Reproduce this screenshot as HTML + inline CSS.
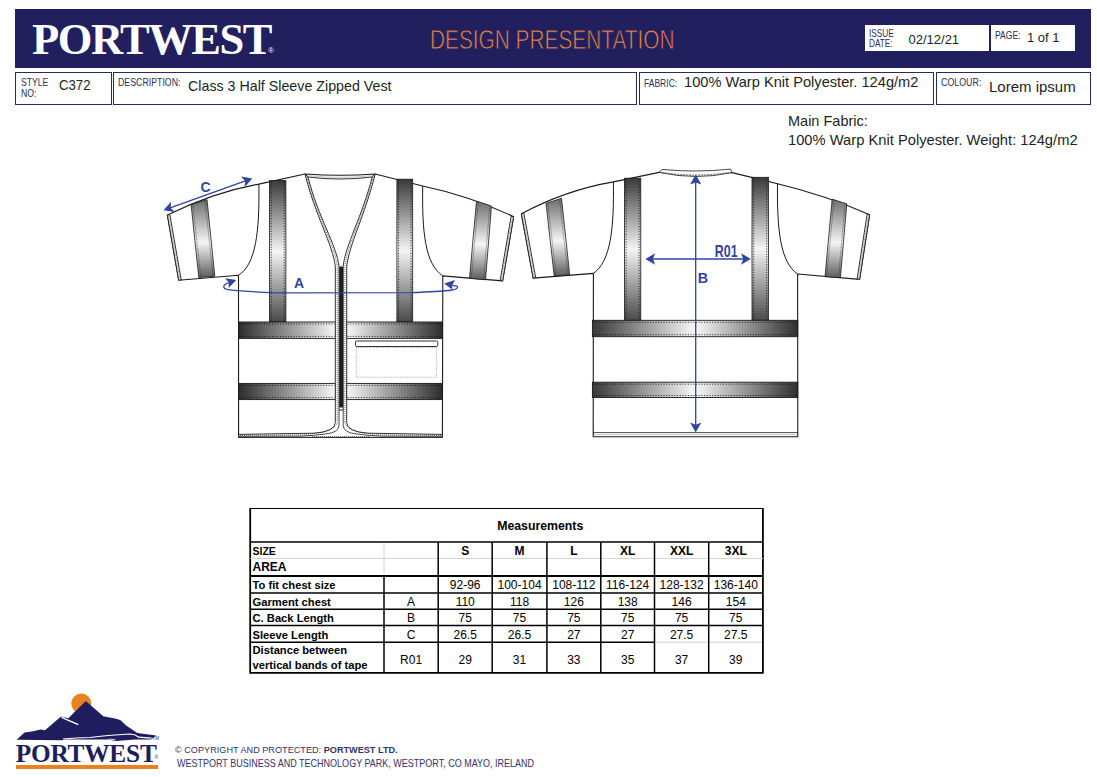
<!DOCTYPE html>
<html><head><meta charset="utf-8">
<style>
html,body{margin:0;padding:0;background:#fff;width:1097px;height:777px;overflow:hidden;position:relative;font-family:"Liberation Sans",sans-serif;color:#231f20}
.a{position:absolute;white-space:nowrap;line-height:1}
.banner{position:absolute;left:15px;top:9px;width:1076px;height:58.5px;background:#211f5e}
.box{position:absolute;border:1.3px solid #2a2860;box-sizing:border-box;background:#fff}
.lbl{color:#2d2b58;font-size:10px}
.serif{font-family:"Liberation Serif",serif;font-weight:bold}
</style></head><body>
<div class="banner"></div>
<div class="a serif" id="logo1" style="left:32px;top:17px;font-size:44.5px;letter-spacing:-1.45px;color:#fff">PORTWEST</div><div class="a" style="left:268.3px;top:47.3px;font-size:7.5px;color:#fff">&reg;</div>
<div class="a" id="dp" style="left:430.4px;top:26px;font-size:28px;color:#f08743;-webkit-text-stroke:0.8px #211f5e;paint-order:normal;transform:scaleX(0.7435);transform-origin:0 0;">DESIGN PRESENTATION</div>

<div class="box" style="left:864.6px;top:24.9px;width:124.4px;height:26.3px;border:none"></div>
<div class="box" style="left:991.2px;top:24.9px;width:84px;height:26.3px;border:none"></div>
<div class="a lbl" id="issue" style="left:868.6px;top:28px;font-size:10.8px;line-height:10.2px;transform:scaleX(0.76);transform-origin:0 0;">ISSUE<br>DATE:</div>
<div class="a" id="date" style="left:908.5px;top:32.5px;font-size:13px">02/12/21</div>
<div class="a lbl" id="page" style="left:995px;top:29.8px;font-size:10.8px;transform:scaleX(0.79);transform-origin:0 0;">PAGE:</div>
<div class="a" id="pg" style="left:1027px;top:31px;font-size:13px">1 of 1</div>

<div class="box" style="left:15px;top:72px;width:96.8px;height:32.5px"></div>
<div class="box" style="left:113.2px;top:72px;width:523.4px;height:32.5px"></div>
<div class="box" style="left:639.4px;top:72px;width:294.4px;height:32.5px"></div>
<div class="box" style="left:936.2px;top:72px;width:154.8px;height:32.5px"></div>

<div class="a lbl" id="style" style="left:20.8px;top:76.9px;font-size:10.8px;line-height:10.9px;transform:scaleX(0.80);transform-origin:0 0;">STYLE<br>NO:</div>
<div class="a" id="c372" style="left:59.2px;top:79px;font-size:13.8px;transform:scaleX(0.955);transform-origin:0 0">C372</div>
<div class="a lbl" id="desc" style="left:117.5px;top:77.2px;font-size:10.8px;transform:scaleX(0.813);transform-origin:0 0;">DESCRIPTION:</div>
<div class="a" id="descv" style="left:187.5px;top:77.5px;font-size:15px;transform:scaleX(0.95);transform-origin:0 0">Class 3 Half Sleeve Zipped Vest</div>
<div class="a lbl" id="fab" style="left:643.5px;top:77.8px;font-size:10.8px;transform:scaleX(0.79);transform-origin:0 0;">FABRIC:</div>
<div class="a" id="fabv" style="left:683.5px;top:74px;font-size:15px;transform:scaleX(0.975);transform-origin:0 0">100% Warp Knit Polyester. 124g/m2</div>
<div class="a lbl" id="col" style="left:940.5px;top:77.4px;font-size:10.8px;transform:scaleX(0.82);transform-origin:0 0;">COLOUR:</div>
<div class="a" id="colv" style="left:989px;top:79px;font-size:15px">Lorem ipsum</div>

<div class="a" id="mf1" style="left:788px;top:114px;font-size:14.5px">Main Fabric:</div>
<div class="a" id="mf2" style="left:787.5px;top:132.7px;font-size:14.5px;transform:scaleX(1.015);transform-origin:0 0">100% Warp Knit Polyester. Weight: 124g/m2</div>

<!--VEST-->
<svg class="a" style="left:0;top:0" width="1097" height="777">
<defs>
<linearGradient id="gv" x1="0" y1="0" x2="0" y2="1"><stop offset="0" stop-color="#3a3a3a"/><stop offset="0.5" stop-color="#f4f4f4"/><stop offset="1" stop-color="#4a4a4a"/></linearGradient>
<linearGradient id="gs" x1="0" y1="0" x2="0" y2="1"><stop offset="0" stop-color="#6e6e6e"/><stop offset="0.55" stop-color="#f4f4f4"/><stop offset="1" stop-color="#5e5e5e"/></linearGradient>
<linearGradient id="gl" x1="0" y1="0" x2="1" y2="0"><stop offset="0" stop-color="#2e2e2e"/><stop offset="1" stop-color="#f6f6f6"/></linearGradient>
<linearGradient id="gr" x1="0" y1="0" x2="1" y2="0"><stop offset="0" stop-color="#f6f6f6"/><stop offset="1" stop-color="#2e2e2e"/></linearGradient>
<linearGradient id="gb" x1="0" y1="0" x2="1" y2="0"><stop offset="0" stop-color="#383838"/><stop offset="0.5" stop-color="#f8f8f8"/><stop offset="1" stop-color="#303030"/></linearGradient>
</defs>
<path d="M167.4,215.1 Q214,192 258.9,184.1 L305,174 Q340,176.5 375.2,174 L422.7,186 Q470,196 513.6,216.7 L502.6,280.9 L442.8,275.9 L442.4,437.3 L238.6,437.3 L238.5,275.3 L178.7,280.2 Z" fill="#fff" stroke="#1a1a1a" stroke-width="1.1" stroke-linejoin="round"/>
<path d="M258.9,184.1 C259.5,232 256,264 238.5,275.3" fill="none" stroke="#1a1a1a" stroke-width="1"/>
<path d="M422.7,186 C422,232 425,264 442.8,275.9" fill="none" stroke="#1a1a1a" stroke-width="1"/>
<polygon points="167.4,215.1 178.7,280.2 181.2,279.9 169.9,214.79999999999998" fill="#fff" stroke="#1a1a1a" stroke-width="0.9"/>
<line x1="168.65" y1="215.95" x2="179.95" y2="279.05" stroke="#333" stroke-width="0.6" stroke-dasharray="0.8 0.8"/>
<polygon points="513.6,216.7 502.6,280.9 500.1,280.59999999999997 511.1,216.39999999999998" fill="#fff" stroke="#1a1a1a" stroke-width="0.9"/>
<line x1="512.35" y1="217.54999999999998" x2="501.35" y2="279.75" stroke="#333" stroke-width="0.6" stroke-dasharray="0.8 0.8"/>
<polygon points="191.1,204.7 207,199.6 214.8,276.2 198.8,277.5" fill="url(#gs)" stroke="#1a1a1a" stroke-width="0.8"/>
<line x1="193.0" y1="205.1" x2="200.7" y2="276.3" stroke="#222" stroke-width="0.6" stroke-dasharray="0.9 0.9"/>
<line x1="205.1" y1="201.2" x2="212.9" y2="275.4" stroke="#222" stroke-width="0.6" stroke-dasharray="0.9 0.9"/>
<polygon points="476.5,201.1 491.5,206.1 485.5,279.7 469.5,278.3" fill="url(#gs)" stroke="#1a1a1a" stroke-width="0.8"/>
<line x1="478.3" y1="202.7" x2="471.4" y2="277.5" stroke="#222" stroke-width="0.6" stroke-dasharray="0.9 0.9"/>
<line x1="489.7" y1="206.5" x2="483.6" y2="278.5" stroke="#222" stroke-width="0.6" stroke-dasharray="0.9 0.9"/>
<rect x="269.5" y="180.6" width="16.399999999999977" height="141.4" fill="url(#gv)" stroke="#1a1a1a" stroke-width="0.8"/>
<line x1="271.2" y1="181.6" x2="271.2" y2="321" stroke="#111" stroke-width="0.9" stroke-dasharray="1 1.6"/>
<line x1="284.2" y1="181.6" x2="284.2" y2="321" stroke="#111" stroke-width="0.9" stroke-dasharray="1 1.6"/>
<rect x="396.9" y="179.2" width="15.800000000000011" height="142.8" fill="url(#gv)" stroke="#1a1a1a" stroke-width="0.8"/>
<line x1="398.59999999999997" y1="180.2" x2="398.59999999999997" y2="321" stroke="#111" stroke-width="0.9" stroke-dasharray="1 1.6"/>
<line x1="411.0" y1="180.2" x2="411.0" y2="321" stroke="#111" stroke-width="0.9" stroke-dasharray="1 1.6"/>
<rect x="238.6" y="322" width="96.9" height="16.399999999999977" fill="url(#gl)" stroke="#1a1a1a" stroke-width="0.9"/>
<line x1="239.6" y1="324.0" x2="334.5" y2="324.0" stroke="#111" stroke-width="0.9" stroke-dasharray="1 1.7"/>
<line x1="239.6" y1="336.4" x2="334.5" y2="336.4" stroke="#111" stroke-width="0.9" stroke-dasharray="1 1.7"/>
<rect x="346.5" y="322" width="95.89999999999998" height="16.399999999999977" fill="url(#gr)" stroke="#1a1a1a" stroke-width="0.9"/>
<line x1="347.5" y1="324.0" x2="441.4" y2="324.0" stroke="#111" stroke-width="0.9" stroke-dasharray="1 1.7"/>
<line x1="347.5" y1="336.4" x2="441.4" y2="336.4" stroke="#111" stroke-width="0.9" stroke-dasharray="1 1.7"/>
<rect x="238.6" y="383.4" width="96.9" height="16.200000000000045" fill="url(#gl)" stroke="#1a1a1a" stroke-width="0.9"/>
<line x1="239.6" y1="385.4" x2="334.5" y2="385.4" stroke="#111" stroke-width="0.9" stroke-dasharray="1 1.7"/>
<line x1="239.6" y1="397.6" x2="334.5" y2="397.6" stroke="#111" stroke-width="0.9" stroke-dasharray="1 1.7"/>
<rect x="346.5" y="383.4" width="95.89999999999998" height="16.200000000000045" fill="url(#gr)" stroke="#1a1a1a" stroke-width="0.9"/>
<line x1="347.5" y1="385.4" x2="441.4" y2="385.4" stroke="#111" stroke-width="0.9" stroke-dasharray="1 1.7"/>
<line x1="347.5" y1="397.6" x2="441.4" y2="397.6" stroke="#111" stroke-width="0.9" stroke-dasharray="1 1.7"/>
<path d="M308,177 Q340,181 372.2,177" fill="none" stroke="#1a1a1a" stroke-width="0.9"/>
<path d="M306,175.5 Q340,179 374,175.5" fill="none" stroke="#444" stroke-width="0.6" stroke-dasharray="0.8 0.8"/>
<path d="M305,174 C315,215 333,245 335.3,266.5 L335.3,422.5 Q335,431.8 314,433.2 L238.6,434.4 L238.6,437.3 L442.4,437.3 L442.4,434.4 L368,433.2 Q347,431.8 346.7,422.5 L346.7,266.5 C349,245 365,215 375.2,174 L372.2,177 C362,217 345,246 343.2,266.5 L343.2,410 L339,410 L339,266.5 C337,246 318,217 308,177 Z" fill="#fff" stroke="#1a1a1a" stroke-width="0.9" stroke-linejoin="round"/>
<path d="M306.5,175.5 C316.5,216 335,245.5 337.2,266.5 L337.2,422" fill="none" stroke="#111" stroke-width="0.8" stroke-dasharray="0.8 1.2"/>
<path d="M373.6,175.5 C363.5,216 347,245.5 344.9,266.5 L344.9,422" fill="none" stroke="#111" stroke-width="0.8" stroke-dasharray="0.8 1.2"/>
<rect x="339.2" y="266.5" width="3.8" height="141" fill="#1e1e1e"/>
<path d="M339,410 L339,425.5 Q338.6,432.6 326,433.9 Q314,435.6 300,436.1 L238.6,436.3" fill="none" stroke="#1a1a1a" stroke-width="0.8"/>
<path d="M343.2,410 L343.2,425.5 Q343.6,432.6 356,433.9 Q368,435.6 382,436.1 L442.4,436.3" fill="none" stroke="#1a1a1a" stroke-width="0.8"/>
<path d="M240,435.4 L300,434.9 Q335.6,433 337.2,422" fill="none" stroke="#111" stroke-width="0.8" stroke-dasharray="0.8 1.2"/>
<path d="M441,435.4 L382,434.9 Q346,433 344.9,422" fill="none" stroke="#111" stroke-width="0.8" stroke-dasharray="0.8 1.2"/>
<path d="M312,436.6 L370,436.6" fill="none" stroke="#111" stroke-width="0.7" stroke-dasharray="0.8 1.2"/>
<rect x="355.5" y="341" width="82.3" height="5.5" rx="1.2" fill="#fff" stroke="#1a1a1a" stroke-width="0.9"/>
<rect x="356.3" y="347.5" width="80.4" height="29.7" fill="none" stroke="#777" stroke-width="0.6" stroke-dasharray="0.9 0.9"/>
<path d="M521.4,213.8 Q566,190 613.4,181.9 L659.2,172.4 Q695,171 732,172.6 L777.5,183.7 Q825,195 869.6,214.7 L859.6,279.4 L797.6,274 L797.8,436.7 L593.2,436.7 L593.4,273.4 L533.2,278.1 Z" fill="#fff" stroke="#1a1a1a" stroke-width="1.1" stroke-linejoin="round"/>
<path d="M613.4,181.9 C614,228 611,261 593.4,273.4" fill="none" stroke="#1a1a1a" stroke-width="1"/>
<path d="M777.5,183.7 C777,229 780,262 797.6,274" fill="none" stroke="#1a1a1a" stroke-width="1"/>
<polygon points="521.4,213.8 533.2,278.1 535.7,277.70000000000005 523.9,213.4" fill="#fff" stroke="#1a1a1a" stroke-width="0.9"/>
<line x1="522.65" y1="214.60000000000002" x2="534.45" y2="276.90000000000003" stroke="#333" stroke-width="0.6" stroke-dasharray="0.8 0.8"/>
<polygon points="869.6,214.7 859.6,279.4 857.1,279.0 867.1,214.29999999999998" fill="#fff" stroke="#1a1a1a" stroke-width="0.9"/>
<line x1="868.35" y1="215.5" x2="858.35" y2="278.2" stroke="#333" stroke-width="0.6" stroke-dasharray="0.8 0.8"/>
<polygon points="546,203.4 561.5,198.3 569.7,274.9 554.2,275.8" fill="url(#gs)" stroke="#1a1a1a" stroke-width="0.8"/>
<line x1="547.9" y1="203.8" x2="556.1" y2="274.7" stroke="#222" stroke-width="0.6" stroke-dasharray="0.9 0.9"/>
<line x1="559.6" y1="199.9" x2="567.8" y2="274.0" stroke="#222" stroke-width="0.6" stroke-dasharray="0.9 0.9"/>
<polygon points="832.2,199.2 846.8,203.8 840.4,277.6 825,276.7" fill="url(#gs)" stroke="#1a1a1a" stroke-width="0.8"/>
<line x1="834.0" y1="200.8" x2="826.8" y2="275.8" stroke="#222" stroke-width="0.6" stroke-dasharray="0.9 0.9"/>
<line x1="845.0" y1="204.2" x2="838.6" y2="276.5" stroke="#222" stroke-width="0.6" stroke-dasharray="0.9 0.9"/>
<rect x="624.4" y="178.2" width="16.399999999999977" height="142.10000000000002" fill="url(#gv)" stroke="#1a1a1a" stroke-width="0.8"/>
<line x1="626.1" y1="179.2" x2="626.1" y2="319.3" stroke="#111" stroke-width="0.9" stroke-dasharray="1 1.6"/>
<line x1="639.0999999999999" y1="179.2" x2="639.0999999999999" y2="319.3" stroke="#111" stroke-width="0.9" stroke-dasharray="1 1.6"/>
<rect x="752" y="177.3" width="16.399999999999977" height="143.0" fill="url(#gv)" stroke="#1a1a1a" stroke-width="0.8"/>
<line x1="753.7" y1="178.3" x2="753.7" y2="319.3" stroke="#111" stroke-width="0.9" stroke-dasharray="1 1.6"/>
<line x1="766.6999999999999" y1="178.3" x2="766.6999999999999" y2="319.3" stroke="#111" stroke-width="0.9" stroke-dasharray="1 1.6"/>
<rect x="592.4" y="320.3" width="205.39999999999998" height="16.399999999999977" fill="url(#gb)" stroke="#1a1a1a" stroke-width="0.9"/>
<line x1="593.4" y1="322.3" x2="796.8" y2="322.3" stroke="#111" stroke-width="0.9" stroke-dasharray="1 1.7"/>
<line x1="593.4" y1="334.7" x2="796.8" y2="334.7" stroke="#111" stroke-width="0.9" stroke-dasharray="1 1.7"/>
<rect x="592.4" y="382.2" width="205.39999999999998" height="15.300000000000011" fill="url(#gb)" stroke="#1a1a1a" stroke-width="0.9"/>
<line x1="593.4" y1="384.2" x2="796.8" y2="384.2" stroke="#111" stroke-width="0.9" stroke-dasharray="1 1.7"/>
<line x1="593.4" y1="395.5" x2="796.8" y2="395.5" stroke="#111" stroke-width="0.9" stroke-dasharray="1 1.7"/>
<path d="M659.2,172.4 L662,169.4 Q696,172.8 730.6,169.1 L732,172.6 Q696,180.5 659.2,172.4 Z" fill="#fff" stroke="#1a1a1a" stroke-width="0.8" stroke-linejoin="round"/>
<path d="M662,172.6 Q696,177.6 729.5,172.4" fill="none" stroke="#333" stroke-width="1.3" stroke-dasharray="0.6 0.9"/>
<line x1="593.2" y1="432.6" x2="797.8" y2="432.6" stroke="#1a1a1a" stroke-width="0.8"/>
<line x1="594" y1="434.6" x2="797" y2="434.6" stroke="#444" stroke-width="0.6" stroke-dasharray="0.8 0.8"/>
</svg>
<!--/VEST-->
<!--TABLE-->
<svg class="a" style="left:0;top:0" width="1097" height="777" font-family="Liberation Sans, sans-serif" fill="#000">
<line x1="250.2" y1="508.5" x2="762.9" y2="508.5" stroke="#000" stroke-width="1.2"/>
<line x1="250.2" y1="507.9" x2="250.2" y2="673.5999999999999" stroke="#000" stroke-width="1.8"/>
<line x1="762.9" y1="507.9" x2="762.9" y2="673.5999999999999" stroke="#000" stroke-width="1.8"/>
<line x1="250.2" y1="672.8" x2="762.9" y2="672.8" stroke="#000" stroke-width="1.8"/>
<line x1="250.2" y1="558.5" x2="762.9" y2="558.5" stroke="#d4d4d4" stroke-width="1"/>
<line x1="384.0" y1="542" x2="384.0" y2="576" stroke="#d4d4d4" stroke-width="1"/>
<line x1="250.2" y1="542" x2="762.9" y2="542" stroke="#000" stroke-width="1.5"/>
<line x1="250.2" y1="576" x2="762.9" y2="576" stroke="#000" stroke-width="1.8"/>
<line x1="250.2" y1="593" x2="762.9" y2="593" stroke="#000" stroke-width="1.5"/>
<line x1="250.2" y1="609.3" x2="762.9" y2="609.3" stroke="#000" stroke-width="1.5"/>
<line x1="250.2" y1="625.6" x2="762.9" y2="625.6" stroke="#000" stroke-width="1.5"/>
<line x1="250.2" y1="642.2" x2="655" y2="642.2" stroke="#000" stroke-width="1.5"/><line x1="655" y1="642.2" x2="762" y2="642.2" stroke="#d0d0d0" stroke-width="1"/>
<line x1="384.0" y1="576" x2="384.0" y2="672.8" stroke="#000" stroke-width="1.5"/>
<line x1="438.2" y1="542" x2="438.2" y2="672.8" stroke="#000" stroke-width="1.5"/>
<line x1="492.2" y1="542" x2="492.2" y2="672.8" stroke="#000" stroke-width="1.5"/>
<line x1="546.9" y1="542" x2="546.9" y2="672.8" stroke="#000" stroke-width="1.5"/>
<line x1="600.8" y1="542" x2="600.8" y2="672.8" stroke="#000" stroke-width="1.5"/>
<line x1="654.5" y1="542" x2="654.5" y2="672.8" stroke="#000" stroke-width="1.5"/>
<line x1="708.7" y1="542" x2="708.7" y2="672.8" stroke="#000" stroke-width="1.5"/>
<text x="497.2" y="530.4" font-size="12.3" font-weight="bold" text-anchor="start" >Measurements</text>
<text x="252.5" y="555.2" font-size="10.5" font-weight="bold" text-anchor="start" >SIZE</text>
<text x="252.5" y="571" font-size="12" font-weight="bold" text-anchor="start" >AREA</text>
<text x="252.5" y="589.3" font-size="11.2" font-weight="bold" text-anchor="start" >To fit chest size</text>
<text x="252.5" y="606" font-size="11.2" font-weight="bold" text-anchor="start" >Garment chest</text>
<text x="252.5" y="622.1" font-size="11.2" font-weight="bold" text-anchor="start" >C. Back Length</text>
<text x="252.5" y="638.5" font-size="11.2" font-weight="bold" text-anchor="start" >Sleeve Length</text>
<text x="252.5" y="654.4" font-size="11.2" font-weight="bold" text-anchor="start" >Distance between</text>
<text x="252.5" y="669" font-size="11.2" font-weight="bold" text-anchor="start" >vertical bands of tape</text>
<text x="465.2" y="555.3" font-size="12" font-weight="bold" text-anchor="middle" >S</text>
<text x="519.55" y="555.3" font-size="12" font-weight="bold" text-anchor="middle" >M</text>
<text x="573.8499999999999" y="555.3" font-size="12" font-weight="bold" text-anchor="middle" >L</text>
<text x="627.65" y="555.3" font-size="12" font-weight="bold" text-anchor="middle" >XL</text>
<text x="681.6" y="555.3" font-size="12" font-weight="bold" text-anchor="middle" >XXL</text>
<text x="735.8" y="555.3" font-size="12" font-weight="bold" text-anchor="middle" >3XL</text>
<text x="465.2" y="589.3" font-size="12"  text-anchor="middle" >92-96</text>
<text x="519.55" y="589.3" font-size="12"  text-anchor="middle" >100-104</text>
<text x="573.8499999999999" y="589.3" font-size="12"  text-anchor="middle" >108-112</text>
<text x="627.65" y="589.3" font-size="12"  text-anchor="middle" >116-124</text>
<text x="681.6" y="589.3" font-size="12"  text-anchor="middle" >128-132</text>
<text x="735.8" y="589.3" font-size="12"  text-anchor="middle" >136-140</text>
<text x="411.1" y="606" font-size="12"  text-anchor="middle" >A</text>
<text x="465.2" y="606" font-size="12"  text-anchor="middle" >110</text>
<text x="519.55" y="606" font-size="12"  text-anchor="middle" >118</text>
<text x="573.8499999999999" y="606" font-size="12"  text-anchor="middle" >126</text>
<text x="627.65" y="606" font-size="12"  text-anchor="middle" >138</text>
<text x="681.6" y="606" font-size="12"  text-anchor="middle" >146</text>
<text x="735.8" y="606" font-size="12"  text-anchor="middle" >154</text>
<text x="411.1" y="622.1" font-size="12"  text-anchor="middle" >B</text>
<text x="465.2" y="622.1" font-size="12"  text-anchor="middle" >75</text>
<text x="519.55" y="622.1" font-size="12"  text-anchor="middle" >75</text>
<text x="573.8499999999999" y="622.1" font-size="12"  text-anchor="middle" >75</text>
<text x="627.65" y="622.1" font-size="12"  text-anchor="middle" >75</text>
<text x="681.6" y="622.1" font-size="12"  text-anchor="middle" >75</text>
<text x="735.8" y="622.1" font-size="12"  text-anchor="middle" >75</text>
<text x="411.1" y="638.5" font-size="12"  text-anchor="middle" >C</text>
<text x="465.2" y="638.5" font-size="12"  text-anchor="middle" >26.5</text>
<text x="519.55" y="638.5" font-size="12"  text-anchor="middle" >26.5</text>
<text x="573.8499999999999" y="638.5" font-size="12"  text-anchor="middle" >27</text>
<text x="627.65" y="638.5" font-size="12"  text-anchor="middle" >27</text>
<text x="681.6" y="638.5" font-size="12"  text-anchor="middle" >27.5</text>
<text x="735.8" y="638.5" font-size="12"  text-anchor="middle" >27.5</text>
<text x="411.1" y="663.5" font-size="12"  text-anchor="middle" >R01</text>
<text x="465.2" y="663.5" font-size="12"  text-anchor="middle" >29</text>
<text x="519.55" y="663.5" font-size="12"  text-anchor="middle" >31</text>
<text x="573.8499999999999" y="663.5" font-size="12"  text-anchor="middle" >33</text>
<text x="627.65" y="663.5" font-size="12"  text-anchor="middle" >35</text>
<text x="681.6" y="663.5" font-size="12"  text-anchor="middle" >37</text>
<text x="735.8" y="663.5" font-size="12"  text-anchor="middle" >39</text>
</svg>
<!--/TABLE-->
<!--EXTRA-->
<svg class="a" style="left:0;top:0" width="1097" height="777">
<line x1="166" y1="209.4" x2="249.5" y2="179.4" stroke="#3144a0" stroke-width="1.3"/>
<polygon points="163.5,210.3 174.8,212.1 170.6,207.8 171.1,201.7" fill="#3144a0"/>
<polygon points="252.3,178.4 241.0,176.6 245.2,180.9 244.7,187.0" fill="#3144a0"/>
<text x="205.6" y="192" font-family="Liberation Sans, sans-serif" font-weight="bold" font-size="14" fill="#3144a0" text-anchor="middle">C</text>
<path d="M229,282.8 C222.5,284.5 222,288.3 228,289.6 Q246,291.8 275,292.8 L410,292.7 Q440,291.6 452,290 C459.5,288.6 459,285.3 452.5,285.6" fill="none" stroke="#3144a0" stroke-width="1.3"/>
<polygon points="236.3,280.1 225.1,278.2 228.8,282.6 228.7,288" fill="#3144a0"/>
<polygon points="444.2,283.4 455.1,280.1 452.3,285.3 452.1,289.4" fill="#3144a0"/>
<text x="299" y="288" font-family="Liberation Sans, sans-serif" font-weight="bold" font-size="14" fill="#3144a0" text-anchor="middle">A</text>
<line x1="695.7" y1="177" x2="695.7" y2="430" stroke="#3144a0" stroke-width="1.3"/>
<polygon points="695.7,174.6 690.1,184.6 695.7,182.4 701.3,184.6" fill="#3144a0"/>
<polygon points="695.7,432.6 701.3,422.6 695.7,424.8 690.1,422.6" fill="#3144a0"/>
<text x="703" y="282.8" font-family="Liberation Sans, sans-serif" font-weight="bold" font-size="14.3" fill="#3144a0" text-anchor="middle">B</text>
<line x1="648" y1="259" x2="748" y2="259" stroke="#3144a0" stroke-width="1.3"/>
<polygon points="645.4,259.0 655.2,264.8 652.9,259.0 655.2,253.2" fill="#3144a0"/>
<polygon points="750.8,259.0 741.0,253.2 743.3,259.0 741.0,264.8" fill="#3144a0"/>
<text x="714.8" y="256.9" font-family="Liberation Sans, sans-serif" font-weight="bold" font-size="16.2" fill="#3144a0" transform="translate(715 0) scale(0.765 1) translate(-715 0)">R01</text>
</svg>
<svg class="a" style="left:0;top:0" width="1097" height="777">
<circle cx="81.3" cy="703.6" r="10" fill="#e8821e"/>
<polygon points="16.6,739.8 24.6,732.5 31.9,731.6 40.6,729.4 45,730.2 61,716.4 68.3,718.2 85.8,701.1 103.3,716.2 115,718.4 120.2,720 126.2,725.5 137.3,733 156.3,735.5 151,739.4 135,739.4 116,740.9 108,739.4 92,739.4 65,739.4 62,740.2" fill="#201d5e"/>
<path d="M61.5,717.3 L78.3,724.6" stroke="#fff" stroke-width="1.4"/>
<path d="M63,739 Q76,737.6 90,737.5 Q106,735.2 130,734 L135.3,735 L138.5,737.2 L151.5,738.2" fill="none" stroke="#fff" stroke-width="1.2"/>
<path d="M108.5,739.2 L115.5,739.5" fill="none" stroke="#fff" stroke-width="0.8"/>
</svg>
<div class="a serif" id="logo2" style="left:15.7px;top:740.6px;font-size:25.3px;letter-spacing:-0.2px;color:#201d5e">PORTWEST</div>
<div class="a" style="left:154.5px;top:755px;font-size:5px;color:#201d5e">&reg;</div>
<div class="a" style="left:152.5px;top:736.5px;font-size:4.5px;color:#201d5e">TM</div>
<div class="a" style="left:16.4px;top:764.8px;width:141.3px;height:4.2px;background:#e8821e"></div>
<div class="a" id="ft1" style="left:175px;top:744.8px;font-size:9.9px;transform:scaleX(0.925);transform-origin:0 0;color:#34326b">&copy; COPYRIGHT AND PROTECTED: <b>PORTWEST LTD.</b></div>
<div class="a" id="ft2" style="left:177px;top:758.3px;font-size:10.6px;transform:scaleX(0.85);transform-origin:0 0;color:#34326b">WESTPORT BUSINESS AND TECHNOLOGY PARK, WESTPORT, CO MAYO, IRELAND</div>
<!--/EXTRA-->
</body></html>
